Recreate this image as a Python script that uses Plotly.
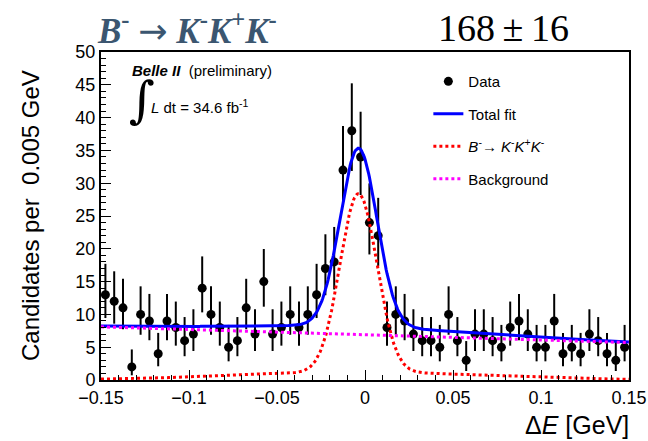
import numpy as np
import plotly.graph_objects as go

# ---- data (bin centres, counts) ----
bin_lo = -0.15
bin_width = 0.005
counts = [13, 12, 11, 2, 10, 9, 4, 9, 8, 6,
          7, 14, 10, 8, 5, 6, 11, 7, 15, 7,
          8, 10, 8, 10, 13, 17, 18, 32, 38, 34,
          24, 22, 8, 10, 9, 7, 6, 6, 5, 10,
          6, 3, 7, 7, 6, 5, 8, 9, 7, 5,
          5, 9, 4, 5, 4, 7, 6, 4, 3, 5]
x_centres = [bin_lo + bin_width * (i + 0.5) for i in range(len(counts))]

# ---- fit parameters ----
sig_mean = -0.0037
sig_core_amp = 27.2
sig_core_sigma = 0.0105
sig_tail_amp = 1.2
sig_tail_sigma = 0.07
bkg_at_zero = 6.9
bkg_slope = -8.0

x_ticks = [-0.15, -0.1, -0.05, 0, 0.05, 0.1, 0.15]
x_tick_text = ["\u22120.15", "\u22120.1", "\u22120.05", "0", "0.05", "0.1", "0.15"]
y_ticks = [0, 5, 10, 15, 20, 25, 30, 35, 40, 45, 50]

# Poisson (Gehrels) errors
n = np.array(counts, dtype=float)
err_up = np.sqrt(n + 0.75) + 1.0
err_dn = np.where(n > 0, n - n * (1 - 1 / (9 * np.maximum(n, 1)) - 1 / (3 * np.sqrt(np.maximum(n, 1)))) ** 3, 0)

xf = np.linspace(-0.15, 0.15, 601)
sig = (sig_core_amp * np.exp(-0.5 * ((xf - sig_mean) / sig_core_sigma) ** 2)
       + sig_tail_amp * np.exp(-0.5 * ((xf - sig_mean) / sig_tail_sigma) ** 2))
bkg = bkg_at_zero + bkg_slope * xf
tot = sig + bkg

fig = go.Figure()
fig.add_trace(go.Scatter(
    x=x_centres, y=counts, mode="markers", name="Data",
    marker=dict(color="black", size=9),
    error_y=dict(type="data", symmetric=False, array=err_up, arrayminus=err_dn,
                 color="black", thickness=2, width=0),
    legendgroup="a"))
fig.add_trace(go.Scatter(x=xf, y=tot, mode="lines", name="Total fit",
                         line=dict(color="#0000ff", width=3), legendgroup="b"))
fig.add_trace(go.Scatter(x=xf, y=sig, mode="lines",
                         name="<i>B</i><sup>-</sup>\u2192 <i>K</i><sup>-</sup><i>K</i><sup>+</sup><i>K</i><sup>-</sup>",
                         line=dict(color="#ff0000", width=3, dash="dot"), legendgroup="c"))
fig.add_trace(go.Scatter(x=xf, y=bkg, mode="lines", name="Background",
                         line=dict(color="#ff00ff", width=3, dash="dot"), legendgroup="d"))

fig.update_layout(
    width=648, height=441,
    margin=dict(l=101, r=19, t=52, b=61, autoexpand=False),
    paper_bgcolor="white", plot_bgcolor="white",
    font=dict(family="Liberation Sans, Arial, sans-serif", color="black", size=18),
    showlegend=True,
    legend=dict(x=0.62, y=0.96, xanchor="left", yanchor="top",
                bgcolor="rgba(0,0,0,0)", font=dict(size=15),
                tracegroupgap=10, itemwidth=30),
    xaxis=dict(range=[-0.15, 0.15], tickvals=x_ticks, ticktext=x_tick_text,
               ticks="inside", ticklen=10, tickwidth=1, tickcolor="black",
               minor=dict(dtick=0.01, ticks="inside", ticklen=5, tickcolor="black"),
               showline=True, linecolor="black", linewidth=2, mirror=True, automargin=False,
               showgrid=False, zeroline=False, tickfont=dict(size=18)),
    yaxis=dict(range=[0, 50], tickvals=y_ticks,
               ticks="inside", ticklen=10, tickwidth=1, tickcolor="black",
               minor=dict(dtick=1, ticks="inside", ticklen=5, tickcolor="black"),
               showline=True, linecolor="black", linewidth=2, mirror=True, automargin=False,
               showgrid=False, zeroline=False, tickfont=dict(size=18)),
)

serif = "Liberation Serif, DejaVu Serif, serif"
arrow = "<span style='font-family:DejaVu Sans;font-weight:normal'>\u2192</span>"
ann = [
    dict(text="Candidates per\u00a0\u00a00.005 GeV", x=(30 - 101) / 528, y=0.5,
         textangle=-90, xanchor="center", yanchor="middle", font=dict(size=24)),
    dict(text="\u0394<i>E</i> [GeV]", x=1.003, y=-0.136,
         xanchor="right", yanchor="middle", font=dict(size=25)),
    dict(text="<b><i>B</i><sup>-</sup> " + arrow + " <i>K</i><sup>-</sup><i>K</i><sup>+</sup><i>K</i><sup>-</sup></b>",
         x=(95 - 101) / 528, y=1.072, xanchor="left", yanchor="middle",
         font=dict(family=serif, size=35, color="#3b5670")),
    dict(text="168\u2009\u00b1\u200916", x=(436 - 101) / 528, y=1.072, xanchor="left",
         yanchor="middle", font=dict(family=serif, size=38, color="black")),
    dict(text="<b><i>Belle II</i></b>\u00a0\u00a0(preliminary)", x=0.055, y=0.945,
         xanchor="left", yanchor="middle", font=dict(size=15)),
    dict(text="\u222b", x=0.05, y=0.855, xanchor="left",
         yanchor="middle", font=dict(family="DejaVu Serif, serif", size=50)),
    dict(text="<i>L</i> dt = 34.6 fb<sup>-1</sup>", x=0.09, y=0.835,
         xanchor="left", yanchor="middle", font=dict(size=15)),
]
for a in ann:
    a["showarrow"] = False
    a["xref"] = "paper"
    a["yref"] = "paper"
fig.update_layout(annotations=ann)

fig.write_html("out.html")
